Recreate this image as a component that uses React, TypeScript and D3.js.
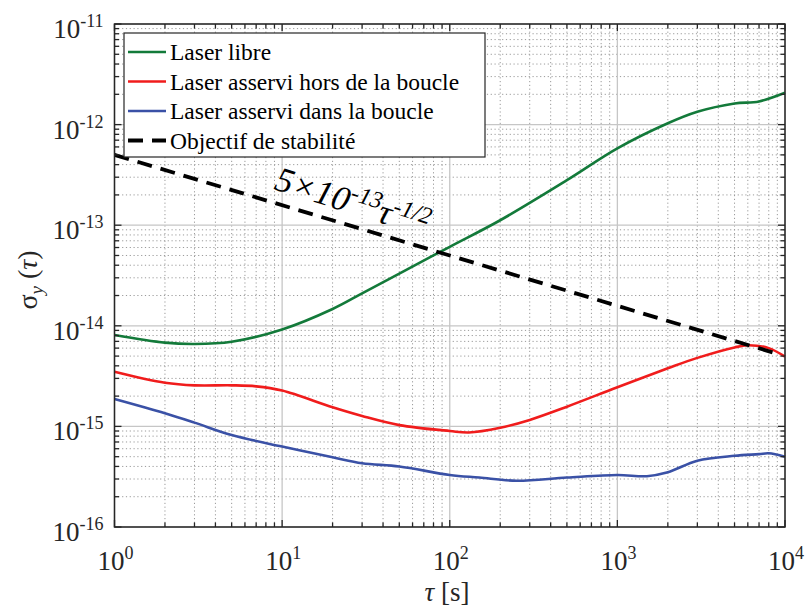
import React from "react";
import * as d3 from "d3";

// ---- data ----
const tauGreen = [1, 2, 3, 5, 10, 20, 30, 50, 100, 200, 500, 1000, 2000, 3000, 5000, 7000, 10000];
const greenValues = [8.1e-15, 6.8e-15, 6.6e-15, 6.95e-15, 9.2e-15, 1.47e-14, 2.1e-14, 3.3e-14, 6.1e-14, 1.12e-13, 2.8e-13, 5.8e-13, 1.03e-12, 1.34e-12, 1.62e-12, 1.7e-12, 2.07e-12];

const tauRed = [1, 2, 3, 5, 7, 10, 20, 30, 50, 100, 130, 200, 300, 500, 1000, 2000, 3000, 5000, 6000, 8000, 10000];
const redValues = [3.5e-15, 2.72e-15, 2.56e-15, 2.56e-15, 2.5e-15, 2.27e-15, 1.55e-15, 1.27e-15, 1.03e-15, 9.0e-16, 8.7e-16, 9.7e-16, 1.16e-15, 1.57e-15, 2.45e-15, 3.78e-15, 4.8e-15, 6.1e-15, 6.4e-15, 6.0e-15, 4.93e-15];

const tauBlue = [1, 2, 3, 5, 10, 20, 30, 50, 100, 150, 250, 500, 1000, 1500, 2000, 3000, 5000, 7000, 8000, 10000];
const blueValues = [1.87e-15, 1.35e-15, 1.09e-15, 8.2e-16, 6.3e-16, 4.93e-16, 4.3e-16, 4.0e-16, 3.29e-16, 3.1e-16, 2.88e-16, 3.1e-16, 3.29e-16, 3.2e-16, 3.5e-16, 4.56e-16, 5.1e-16, 5.3e-16, 5.4e-16, 5.0e-16];

const tauObjective = [1, 8500];
const objectiveValues = [5e-13, 5.42e-15];

const legendLabels = [
  "Laser libre",
  "Laser asservi hors de la boucle",
  "Laser asservi dans la boucle",
  "Objectif de stabilité",
];
const xTickExponents = [0, 1, 2, 3, 4];
const yTickExponents = [-16, -15, -14, -13, -12, -11];

const GREEN = "#137a3a";
const RED = "#f01c1c";
const BLUE = "#3a51a6";
const TS = { fontFamily: "Liberation Serif" };

export default function App() {
  const W = 806;
  const H = 607;
  const left = 114.5, right = 785, top = 24, bottom = 527;
  const x = d3.scaleLog().domain([1, 1e4]).range([left, right]);
  const y = d3.scaleLog().domain([1e-16, 1e-11]).range([bottom, top]);

  const line = d3
    .line<[number, number]>()
    .x((d) => x(d[0]))
    .y((d) => y(d[1]))
    .curve(d3.curveCatmullRom.alpha(0.5));

  const zip = (a: number[], b: number[]) => a.map((t, i) => [t, b[i]] as [number, number]);

  const series = [
    { tau: tauGreen, v: greenValues, color: GREEN },
    { tau: tauRed, v: redValues, color: RED },
    { tau: tauBlue, v: blueValues, color: BLUE },
  ];

  const xMinor: number[] = [];
  for (let e = 0; e < 4; e++) for (let k = 2; k <= 9; k++) xMinor.push(k * Math.pow(10, e));
  const yMinor: number[] = [];
  for (let e = -16; e < -11; e++) for (let k = 2; k <= 9; k++) yMinor.push(k * Math.pow(10, e));

  const majLen = 7, minLen = 4.5;

  const annX = 273, annY = 189;

  return (
    <svg width={W} height={H} style={{ position: "absolute", left: 0, top: 0, background: "#fff" }}>
      <rect x={0} y={0} width={W} height={H} fill="#fff" />
      <g stroke="#9a9a9a" strokeWidth={1} strokeDasharray="1.2 2.6">
        {xMinor.map((t) => (
          <line key={"xm" + t} x1={x(t)} x2={x(t)} y1={top} y2={bottom} />
        ))}
        {yMinor.map((t) => (
          <line key={"ym" + t} y1={y(t)} y2={y(t)} x1={left} x2={right} />
        ))}
      </g>
      <g stroke="#c6c6c6" strokeWidth={1.3}>
        {xTickExponents.map((e) => (
          <line key={"xg" + e} x1={x(Math.pow(10, e))} x2={x(Math.pow(10, e))} y1={top} y2={bottom} />
        ))}
        {yTickExponents.map((e) => (
          <line key={"yg" + e} y1={y(Math.pow(10, e))} y2={y(Math.pow(10, e))} x1={left} x2={right} />
        ))}
      </g>

      {series.map((s, i) => (
        <path key={i} d={line(zip(s.tau, s.v)) || ""} fill="none" stroke={s.color} strokeWidth={2.6} />
      ))}
      <path
        d={line(zip(tauObjective, objectiveValues)) || ""}
        fill="none"
        stroke="#000"
        strokeWidth={3.8}
        strokeDasharray="15 9"
      />

      <g stroke="#262626" strokeWidth={1.3}>
        {xTickExponents.map((e) => {
          const px = x(Math.pow(10, e));
          return (
            <g key={"xt" + e}>
              <line x1={px} x2={px} y1={bottom} y2={bottom - majLen} />
              <line x1={px} x2={px} y1={top} y2={top + majLen} />
            </g>
          );
        })}
        {xMinor.map((t) => (
          <g key={"xmt" + t}>
            <line x1={x(t)} x2={x(t)} y1={bottom} y2={bottom - minLen} />
            <line x1={x(t)} x2={x(t)} y1={top} y2={top + minLen} />
          </g>
        ))}
        {yTickExponents.map((e) => {
          const py = y(Math.pow(10, e));
          return (
            <g key={"yt" + e}>
              <line x1={left} x2={left + majLen} y1={py} y2={py} />
              <line x1={right} x2={right - majLen} y1={py} y2={py} />
            </g>
          );
        })}
        {yMinor.map((t) => (
          <g key={"ymt" + t}>
            <line x1={left} x2={left + minLen} y1={y(t)} y2={y(t)} />
            <line x1={right} x2={right - minLen} y1={y(t)} y2={y(t)} />
          </g>
        ))}
      </g>
      <rect x={left} y={top} width={right - left} height={bottom - top} fill="none" stroke="#262626" strokeWidth={1.5} />

      <g fill="#262626">
        {xTickExponents.map((e) => (
          <text key={"xl" + e} x={x(Math.pow(10, e)) + 1} y={bottom + 43} textAnchor="middle" fontSize={27} style={TS}>
            10
            <tspan fontSize={18} dy={-11}>
              {String(e)}
            </tspan>
          </text>
        ))}
        {yTickExponents.map((e) => (
          <text key={"yl" + e} x={left - 11} y={y(Math.pow(10, e)) + 14} textAnchor="end" fontSize={27} style={TS}>
            10
            <tspan fontSize={18} dy={-11}>
              {String(e)}
            </tspan>
          </text>
        ))}
      </g>

      <text x={447} y={601} textAnchor="middle" fontSize={27} fill="#262626" style={TS}>
        <tspan fontStyle="italic">τ</tspan> [s]
      </text>
      <text transform="translate(37,280) rotate(-90)" textAnchor="middle" fontSize={28} fill="#262626" style={TS}>
        σ
        <tspan fontStyle="italic" fontSize={19} dy={6}>
          y
        </tspan>
        <tspan dy={-6}> (</tspan>
        <tspan fontStyle="italic">τ</tspan>)
      </text>

      <g>
        <rect x={124} y={33} width={361} height={124} fill="#fff" stroke="#262626" strokeWidth={1.2} />
        {legendLabels.map((lab, i) => {
          const ly = 52 + i * 29.5;
          const col = i === 0 ? GREEN : i === 1 ? RED : i === 2 ? BLUE : "#000";
          return (
            <g key={lab}>
              <line
                x1={128}
                x2={166}
                y1={ly}
                y2={ly}
                stroke={col}
                strokeWidth={i === 3 ? 3.8 : 2.6}
                strokeDasharray={i === 3 ? "15 9" : undefined}
              />
              <text x={170} y={ly + 8} fontSize={23.5} fill="#000" style={TS}>
                {lab}
              </text>
            </g>
          );
        })}
      </g>

      <text
        transform={`translate(${annX},${annY}) rotate(17.5)`}
        fontSize={35}
        fontStyle="italic"
        fill="#000"
        style={TS}
      >
        5×10
        <tspan fontSize={24} dy={-13}>
          -13
        </tspan>
        <tspan dy={13}>τ</tspan>
        <tspan fontSize={24} dy={-13}>
          -1/2
        </tspan>
      </text>
    </svg>
  );
}
